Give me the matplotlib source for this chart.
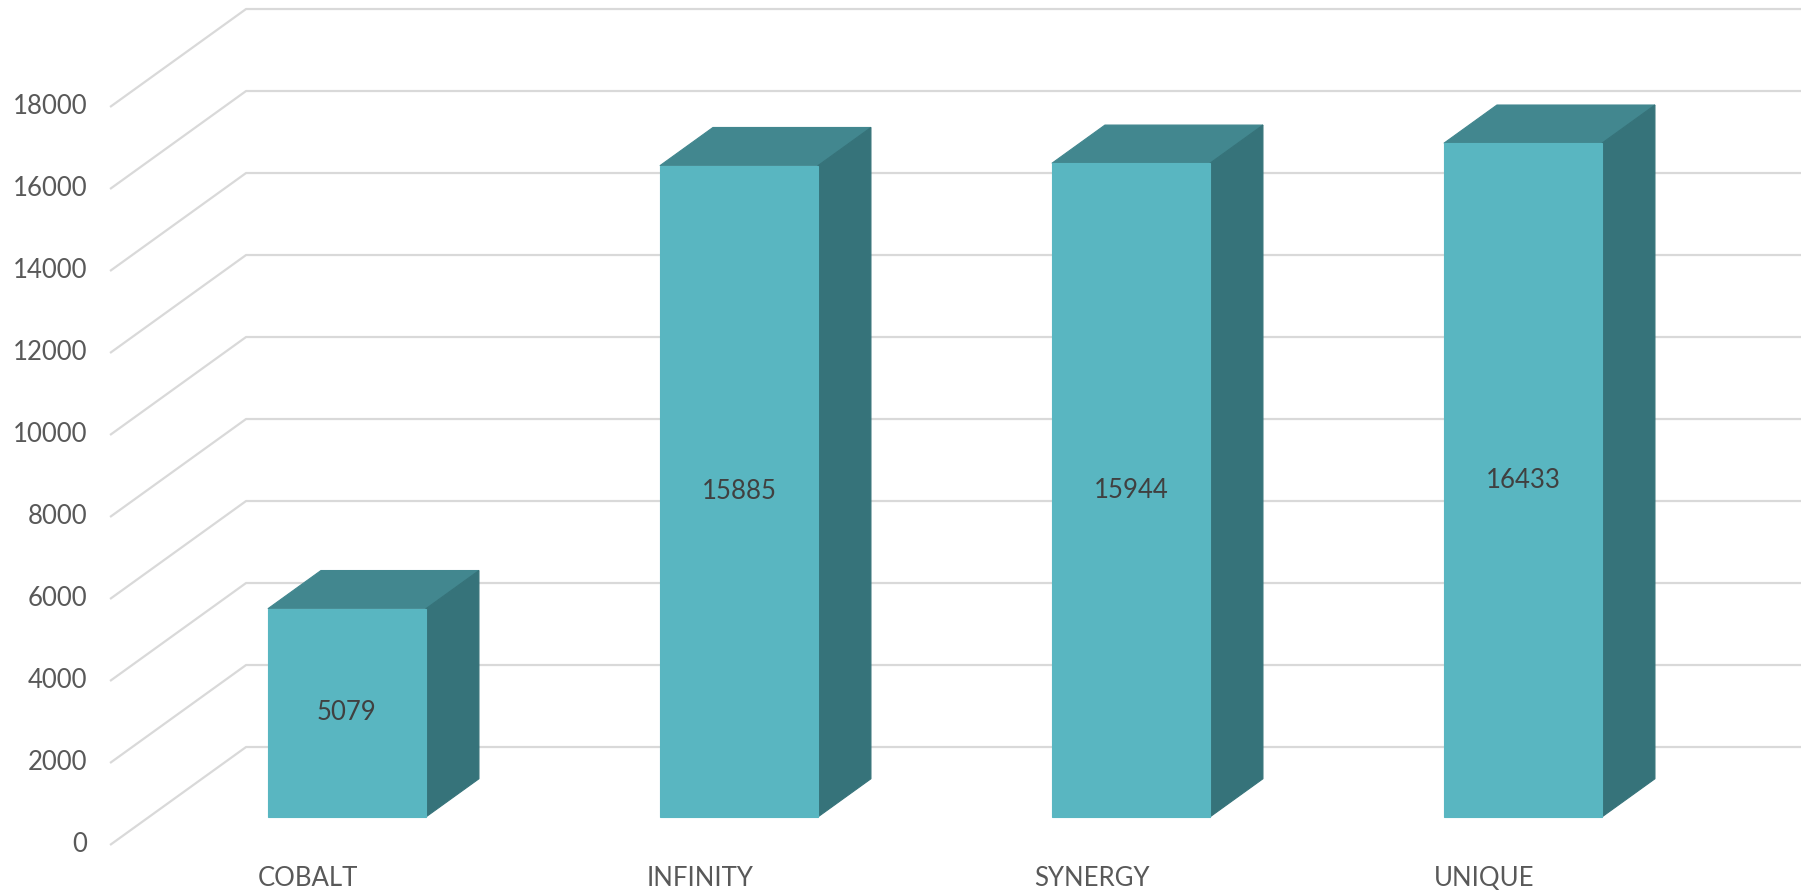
import matplotlib
matplotlib.use("Agg")
import matplotlib.pyplot as plt
from matplotlib.patches import Polygon

categories = ["COBALT", "INFINITY", "SYNERGY", "UNIQUE"]
values = [5079, 15885, 15944, 16433]
yticks = list(range(0, 18001, 2000))

# oblique projection parameters (data units)
DEPTH_DX = 0.347      # category units for full depth
DEPTH_DY = 2390.0     # value units for full depth
BAR_D0, BAR_D1 = 0.286, 0.676
BAR_W = 0.403
AXIS_C = -0.505

FRONT = "#59b6c1"
TOP = "#42878f"
SIDE = "#36737a"
GRID = "#d9d9d9"

plt.rcParams['font.family'] = ['Lato', 'DejaVu Sans']

fig = plt.figure(figsize=(18.01, 8.93), dpi=100)
ax = fig.add_axes([0, 0, 1, 1])
ax.set_xlim((0 - 308) / 392, (1801 - 308) / 392)
ax.set_ylim((845 - 893) / 0.041, 845 / 0.041)
ax.axis("off")


def proj(c, v, d):
    return (c + DEPTH_DX * d, v + DEPTH_DY * d)


xmax = ax.get_xlim()[1]
for t in yticks:
    p0 = proj(AXIS_C, t, 0)
    p1 = proj(AXIS_C, t, 1)
    ax.plot([p0[0], p1[0], xmax], [p0[1], p1[1], p1[1]], color=GRID,
            lw=1.6, zorder=1, solid_capstyle="butt")
    ax.annotate(str(t), xy=p0, xytext=(-23, 0), textcoords="offset pixels",
                ha="right", va="center", fontsize=18.5, color="#595959")

for i, (cat, v) in enumerate(zip(categories, values)):
    l, r = i - BAR_W / 2, i + BAR_W / 2
    top = Polygon([proj(l, v, BAR_D0), proj(r, v, BAR_D0),
                   proj(r, v, BAR_D1), proj(l, v, BAR_D1)],
                  closed=True, facecolor=TOP, edgecolor=TOP, lw=0.8, zorder=3)
    side = Polygon([proj(r, 0, BAR_D0), proj(r, 0, BAR_D1),
                    proj(r, v, BAR_D1), proj(r, v, BAR_D0)],
                   closed=True, facecolor=SIDE, edgecolor=SIDE, lw=0.8, zorder=3)
    front = Polygon([proj(l, 0, BAR_D0), proj(r, 0, BAR_D0),
                     proj(r, v, BAR_D0), proj(l, v, BAR_D0)],
                    closed=True, facecolor=FRONT, edgecolor=FRONT, lw=0.8, zorder=4)
    for p in (top, side, front):
        ax.add_patch(p)
    cx, cy = proj(i, v / 2, BAR_D0)
    ax.text(cx, cy, str(v), ha="center", va="center", fontsize=18.5,
            color="#404040", zorder=5)
    ax.annotate(cat, xy=proj(i, 0, 0), xytext=(0, -34), textcoords="offset pixels",
                ha="center", va="center", fontsize=18.5, color="#595959")

fig.savefig("out.png", dpi=100)
